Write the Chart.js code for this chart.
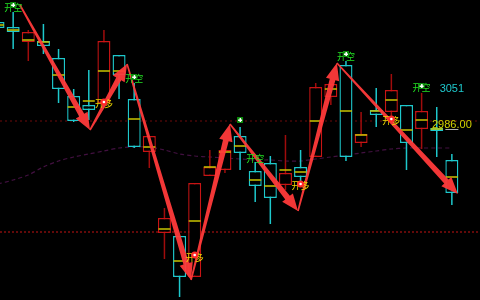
<!DOCTYPE html>
<html>
<head>
<meta charset="utf-8">
<script src="https://cdn.jsdelivr.net/npm/chart.js@4.4.0/dist/chart.umd.min.js"></script>
<style>
  html, body { margin: 0; padding: 0; background: #000; }
  #wrap { width: 480px; height: 300px; }
</style>
</head>
<body>
<div id="wrap"><canvas id="kline" width="480" height="300"></canvas></div>
<script>
// --- DATA K-LINE ---
const barIndex = [0, 1, 2, 3, 4, 5, 6, 7, 8, 9, 10, 11, 12, 13, 14, 15, 16, 17, 18, 19, 20, 21, 22, 23, 24, 25, 26, 27, 28, 29, 30];
const openPrices  = [3184, 3174, 3144, 3146, 3112, 3036, 3018, 3022, 3118, 3030, 2924, 2762, 2756, 2674, 2876, 2888, 2956, 2886, 2902, 2858, 2894, 2914, 3034, 3098, 2942, 3008, 3004, 3018, 2970, 2972, 2908];
const highPrices  = [3188, 3204, 3168, 3180, 3130, 3050, 3088, 3168, 3118, 3062, 2956, 2812, 2756, 2862, 2928, 2928, 2974, 2904, 2916, 2958, 2928, 3062, 3060, 3106, 3004, 3052, 3080, 3018, 3042, 3014, 2920];
const lowPrices   = [3168, 3130, 3106, 3120, 3022, 2984, 2988, 3022, 3030, 2932, 2892, 2710, 2634, 2674, 2876, 2882, 2888, 2824, 2780, 2848, 2862, 2914, 3018, 2906, 2934, 2974, 2988, 2888, 2930, 2914, 2818];
const closePrices = [3172, 3164, 3164, 3136, 3050, 2986, 3008, 3146, 3078, 2934, 2956, 2792, 2674, 2862, 2894, 2928, 2922, 2856, 2832, 2882, 2874, 3054, 3060, 2914, 2960, 2998, 3048, 2942, 3006, 2966, 2842];
const avgPrices   = [3178, 3168, 3148, 3144, 3078, 3014, 3026, 3086, 3086, 2990, 2934, 2770, 2706, 2786, 2894, 2924, 2936, 2868, 2856, 2888, 2884, 2986, 3050, 3006, 2958, 3006, 3028, 2968, 2988, 2970, 2874];
const maPrices    = [2860, 2868, 2878, 2894, 2906, 2914, 2920, 2926, 2932, 2934, 2934, 2928, 2920, 2916, 2914, 2912, 2910, 2908, 2908, 2906, 2906, 2910, 2914, 2918, 2922, 2926, 2930, 2932, 2932, 2932, 2932];

// garis putus-putus horizontal
const levelPrices = [2986, 2764];

// --- SINYAL ---
const signalIndex = [1, 7, 9, 13, 17, 20, 23, 26, 28];
const signalPrice = [3212, 3020, 3070, 2712, 2910, 2856, 3114, 2986, 3052];
const signalText  = ["开空", "开多", "开空", "开多", "开空", "开多", "开空", "开多", "开空"];

const markerIndex = [1, 7, 9, 13, 16, 20, 23, 26, 28];
const markerPrice = [3218, 3024, 3074, 2718, 2988, 2860, 3120, 2990, 3056];
const markerType  = ["空", "多", "空", "多", "空", "多", "空", "多", "空"];

// --- PANAH (titik sambung) ---
const arrowIndex = [1.45, 6.08, 8.53, 12.76, 15.33, 19.83, 22.4, 30.4];
const arrowPrice = [3218, 2968, 3100, 2668, 2980, 2806, 3102, 2840];

// label harga di kanan
const priceTagIndex = [30, 30];
const priceTagValue = [3051, 2986];
const priceTagText  = ["3051", "2986.00"];

const CYAN = "#1ec8cc";
const RED = "#c81414";
const RED_WICK = "#a00c0c";

const isUp = (i) => closePrices[i] >= openPrices[i];

// plugin untuk panah, sinyal dan label harga
const overlayPlugin = {
  id: "overlay",
  afterDatasetsDraw(chart) {
    const ctx = chart.ctx;
    const xs = chart.scales.x;
    const ys = chart.scales.y;
    const px = (v) => xs.getPixelForValue(v);
    const py = (v) => ys.getPixelForValue(v);

    // panah merah
    ctx.save();
    ctx.fillStyle = "rgba(255, 58, 58, 0.95)";
    for (let k = 0; k < arrowIndex.length - 1; k++) {
      drawArrow(ctx, px(arrowIndex[k]), py(arrowPrice[k]), px(arrowIndex[k + 1]), py(arrowPrice[k + 1]));
    }
    ctx.restore();

    // teks sinyal
    ctx.save();
    ctx.font = "9px 'Noto Sans CJK SC'";
    ctx.textAlign = "center";
    ctx.textBaseline = "middle";
    signalText.forEach((t, k) => {
      ctx.fillStyle = t === "开空" ? "#22e022" : "#f0dc00";
      ctx.fillText(t, px(signalIndex[k]), py(signalPrice[k]));
    });
    ctx.restore();

    // marker kecil
    ctx.save();
    markerType.forEach((m, k) => {
      const x = px(markerIndex[k]);
      const y = py(markerPrice[k]);
      if (m === "空") {
        ctx.fillStyle = "#0a8a0a";
        ctx.fillRect(x - 3, y - 3, 6, 6);
        ctx.fillStyle = "#ffffff";
        ctx.fillRect(x - 0.5, y - 2, 1.5, 4);
        ctx.fillRect(x - 2, y - 0.5, 4, 1.5);
      } else {
        ctx.fillStyle = "#ff2a2a";
        ctx.beginPath();
        ctx.arc(x, y, 3.5, 0, Math.PI * 2);
        ctx.fill();
        ctx.fillStyle = "#ffffff";
        ctx.beginPath();
        ctx.arc(x, y, 1.3, 0, Math.PI * 2);
        ctx.fill();
      }
    });
    ctx.restore();

    // label harga
    ctx.save();
    ctx.font = "11px 'Liberation Sans Narrow', 'Liberation Sans', sans-serif";
    ctx.textAlign = "center";
    ctx.textBaseline = "middle";
    ctx.fillStyle = CYAN;
    ctx.fillText(priceTagText[0], px(priceTagIndex[0]), py(priceTagValue[0]));
    ctx.fillStyle = "#d2d200";
    ctx.fillText(priceTagText[1], px(priceTagIndex[1]), py(priceTagValue[1]) + 4);
    ctx.strokeStyle = "#b0b0b0";
    ctx.lineWidth = 1;
    ctx.beginPath();
    ctx.moveTo(px(priceTagIndex[1]) - 6.5, py(priceTagValue[1]) + 8.5);
    ctx.lineTo(px(priceTagIndex[1]) + 6.5, py(priceTagValue[1]) + 8.5);
    ctx.stroke();
    ctx.restore();
  },
};

// panah meruncing: tipis di pangkal, tebal dekat kepala
function drawArrow(ctx, x0, y0, x1, y1) {
  const len = Math.hypot(x1 - x0, y1 - y0);
  const ux = (x1 - x0) / len;
  const uy = (y1 - y0) / len;
  const nx = -uy;
  const ny = ux;
  const headLen = 17;
  const headW = 6.8;
  const w0 = 0.8;
  const w1 = 2.9;
  const bx = x1 - ux * headLen;
  const by = y1 - uy * headLen;
  ctx.beginPath();
  ctx.moveTo(x0 + nx * w0, y0 + ny * w0);
  ctx.lineTo(bx + nx * w1, by + ny * w1);
  ctx.lineTo(bx + nx * headW, by + ny * headW);
  ctx.lineTo(x1, y1);
  ctx.lineTo(bx - nx * headW, by - ny * headW);
  ctx.lineTo(bx - nx * w1, by - ny * w1);
  ctx.lineTo(x0 - nx * w0, y0 - ny * w0);
  ctx.closePath();
  ctx.fill();
}

function buatKline() {
  const ctx = document.getElementById("kline").getContext("2d");
  const xMin = 0.13;
  const xMax = 31.86;

  new Chart(ctx, {
    type: "bar",
    data: {
      datasets: [
        {
          // badan candle
          label: "body",
          data: barIndex.map((i) => ({ x: i, y: [openPrices[i], closePrices[i]] })),
          backgroundColor: "#000000",
          borderColor: barIndex.map((i) => (isUp(i) ? RED : CYAN)),
          borderWidth: 1.4,
          borderSkipped: false,
          inflateAmount: 0,
          barThickness: 13,
          grouped: false,
          order: 2,
        },
        {
          // sumbu (wick)
          label: "wick",
          data: barIndex.map((i) => ({ x: i, y: [lowPrices[i], highPrices[i]] })),
          backgroundColor: barIndex.map((i) => (isUp(i) ? RED_WICK : CYAN)),
          borderWidth: 0,
          inflateAmount: 0,
          barThickness: 1.5,
          grouped: false,
          order: 3,
        },
        {
          // garis kuning harga rata-rata
          type: "line",
          label: "avg",
          data: barIndex.map((i) => ({ x: i, y: avgPrices[i] })),
          showLine: false,
          pointStyle: "line",
          pointRadius: 6,
          pointBorderWidth: 1.5,
          pointBorderColor: "#c8c400",
          order: 1,
        },
        {
          type: "line",
          label: "MA",
          data: barIndex.map((i) => ({ x: i, y: maPrices[i] })),
          borderColor: "#421040",
          borderWidth: 1.2,
          borderDash: [4, 3],
          pointRadius: 0,
          tension: 0.3,
          order: 4,
        },
        {
          type: "line",
          label: "level1",
          data: [{ x: xMin, y: levelPrices[0] }, { x: xMax, y: levelPrices[0] }],
          borderColor: "#6e0a0a",
          borderWidth: 1,
          borderDash: [2, 3],
          pointRadius: 0,
          order: 5,
        },
        {
          type: "line",
          label: "level2",
          data: [{ x: xMin, y: levelPrices[1] }, { x: xMax, y: levelPrices[1] }],
          borderColor: "#7a0c0c",
          borderWidth: 1.6,
          borderDash: [2, 2],
          pointRadius: 0,
          order: 5,
        },
      ],
    },
    options: {
      responsive: false,
      maintainAspectRatio: false,
      animation: false,
      layout: { padding: 0, autoPadding: false },
      scales: {
        x: { type: "linear", min: xMin, max: xMax, display: false, offset: false },
        y: { min: 2628, max: 3228, display: false },
      },
      plugins: {
        legend: { display: false },
        tooltip: { enabled: false },
      },
    },
    plugins: [overlayPlugin],
  });
}

document.addEventListener("DOMContentLoaded", buatKline);
</script>
</body>
</html>
